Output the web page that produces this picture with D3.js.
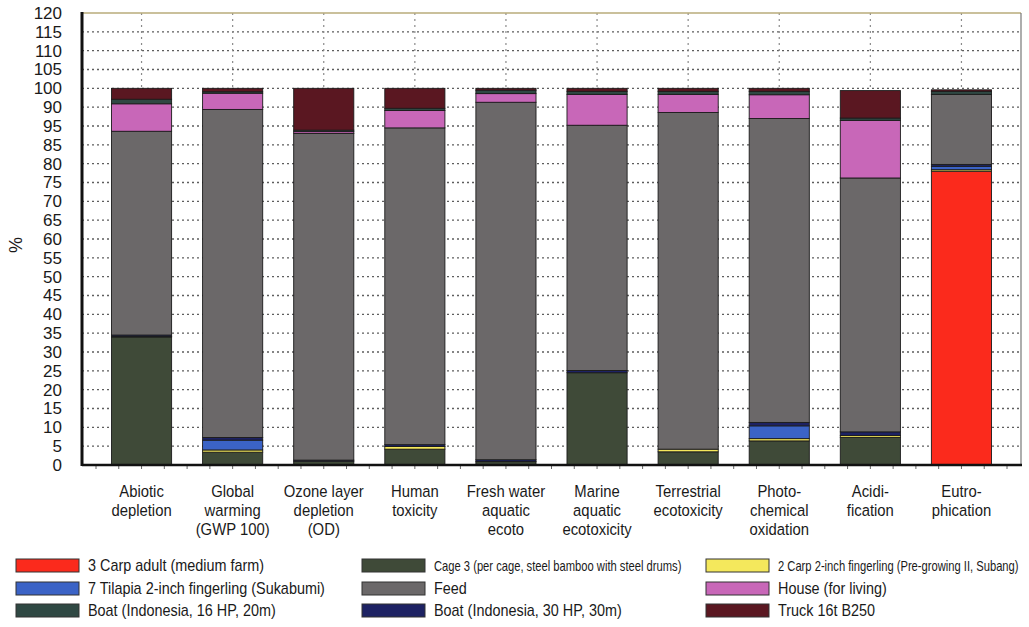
<!DOCTYPE html>
<html>
<head>
<meta charset="utf-8">
<script src="https://cdn.jsdelivr.net/npm/d3@7"></script>
<style>
  html, body { margin: 0; padding: 0; background: #fff; }
  svg { display: block; }
  text { fill: #1a1a1a; }
</style>
</head>
<body>
<svg id="chart" width="1029" height="627"></svg>
<script>
// ---------------- DATA ----------------
const categories = ["Abiotic depletion", "Global warming (GWP 100)", "Ozone layer depletion (OD)",
  "Human toxicity", "Fresh water aquatic ecoto", "Marine aquatic ecotoxicity",
  "Terrestrial ecotoxicity", "Photo-chemical oxidation", "Acidi-fication", "Eutro-phication"];
const categoryLines = [
  ["Abiotic", "depletion"], ["Global", "warming", "(GWP  100)"], ["Ozone layer", "depletion", "(OD)"],
  ["Human", "toxicity"], ["Fresh water", "aquatic", "ecoto"], ["Marine", "aquatic", "ecotoxicity"],
  ["Terrestrial", "ecotoxicity"], ["Photo-", "chemical", "oxidation"], ["Acidi-", "fication"], ["Eutro-", "phication"]
];
const seriesNames = [
  "3 Carp adult (medium farm)",
  "Cage 3 (per cage, steel bamboo with steel drums)",
  "2 Carp 2-inch fingerling (Pre-growing II, Subang)",
  "7 Tilapia 2-inch fingerling (Sukabumi)",
  "Boat (Indonesia, 30 HP, 30m)",
  "Feed",
  "House (for living)",
  "Boat (Indonesia, 16 HP, 20m)",
  "Truck 16t B250"
];
const carpAdult      = [0,    0,    0,    0,    0,    0,    0,    0,    0,    78.0];
const cage3          = [34.0, 3.4,  1.0,  4.2,  0.9,  24.5, 3.5,  6.4,  7.3,  0];
const carpFingerling = [0.1,  0.6,  0,    0.7,  0,    0,    0.7,  0.6,  0.5,  0.4];
const tilapia        = [0,    2.6,  0,    0,    0,    0,    0,    3.4,  0,    0.9];
const boat30         = [0.4,  0.7,  0.3,  0.5,  0.5,  0.6,  0,    0.9,  1.0,  0.5];
const feed           = [54.1, 87.1, 86.7, 84.1, 94.9, 65.1, 89.4, 80.7, 67.4, 18.6];
const house          = [7.3,  4.3,  0.5,  4.6,  2.3,  8.2,  4.8,  6.3,  15.3, 0];
const boat16         = [1.2,  0.4,  0.4,  0.6,  0.9,  0.8,  0.8,  0.9,  0.6,  0.8];
const truck          = [2.9,  0.9,  11.1, 5.3,  0.5,  0.8,  0.8,  0.8,  7.3,  0.4];
const seriesValues = [carpAdult, cage3, carpFingerling, tilapia, boat30, feed, house, boat16, truck];
const seriesColors = ["#fb2a1c", "#3f4a38", "#f4e85c", "#3b63c6", "#1d2263", "#6b6869", "#c867b8", "#2f4843", "#5a1721"];
const yTickValues = [0,5,10,15,20,25,30,35,40,45,50,55,60,65,70,75,80,85,90,95,100,105,110,115,120];
const yTickLabels = ["0","5","10","15","20","25","30","35","40","45","50","55","60","65","70","75","80","85","95","90","100","105","110","115","120"];
// legend layout order (row-major, 3 columns)
const legendOrder = [0, 1, 2, 3, 5, 6, 7, 4, 8];

// ---------------- CHART ----------------
const svg = d3.select("#chart");
const frame = {left: 82, right: 1021, top: 13, bottom: 465};
const FONT = "Liberation Sans, Arial, sans-serif";

const y = d3.scaleLinear().domain([0, 120]).range([frame.bottom, frame.top]);
const x = d3.scaleBand().domain(categories).range([96, 1007]).paddingInner(0.34).paddingOuter(0.17);

const table = categories.map((c, i) => {
  const row = {category: c};
  seriesNames.forEach((s, j) => row[s] = seriesValues[j][i]);
  return row;
});
const stacked = d3.stack().keys(seriesNames)(table);

// horizontal dotted gridlines
svg.append("g").selectAll("line")
  .data(yTickValues.filter(v => v > 0 && v < 120))
  .join("line")
  .attr("x1", frame.left).attr("x2", frame.right)
  .attr("y1", d => y(d)).attr("y2", d => y(d))
  .attr("stroke", "#5e5e5e").attr("stroke-width", 1.3)
  .attr("stroke-dasharray", "2,3");

// vertical dotted gridlines at category centres
svg.append("g").selectAll("line")
  .data(categories)
  .join("line")
  .attr("x1", d => x(d) + x.bandwidth() / 2).attr("x2", d => x(d) + x.bandwidth() / 2)
  .attr("y1", frame.top).attr("y2", frame.bottom)
  .attr("stroke", "#8a8a8a").attr("stroke-width", 1.2)
  .attr("stroke-dasharray", "2,4");

// frame top & right
svg.append("line").attr("x1", frame.left).attr("x2", frame.right).attr("y1", frame.top).attr("y2", frame.top)
  .attr("stroke", "#b8ab7a").attr("stroke-width", 1.5);
svg.append("line").attr("x1", frame.right).attr("x2", frame.right).attr("y1", frame.top).attr("y2", frame.bottom)
  .attr("stroke", "#777").attr("stroke-width", 1.2);

// bars
svg.append("g").selectAll("g")
  .data(stacked)
  .join("g")
  .attr("fill", (d, i) => seriesColors[i])
  .selectAll("rect")
  .data(d => d.map(p => ({p, cat: p.data.category})))
  .join("rect")
  .filter(d => d.p[1] - d.p[0] > 0)
  .attr("x", d => x(d.cat))
  .attr("width", x.bandwidth())
  .attr("y", d => y(d.p[1]))
  .attr("height", d => y(d.p[0]) - y(d.p[1]))
  .attr("stroke", "#1b1b1b").attr("stroke-width", 0.9);

// minor ticks below x axis
const tickScale = d3.scaleLinear().domain([0, 10]).range([96, 1007]);
svg.append("g").selectAll("line")
  .data(d3.range(0, 10.01, 0.25))
  .join("line")
  .attr("x1", d => tickScale(d)).attr("x2", d => tickScale(d))
  .attr("y1", frame.bottom).attr("y2", frame.bottom + 4)
  .attr("stroke", "#666").attr("stroke-width", 1);

// axes lines
svg.append("line").attr("x1", frame.left).attr("x2", frame.right + 1).attr("y1", frame.bottom).attr("y2", frame.bottom)
  .attr("stroke", "#111").attr("stroke-width", 2.5);
svg.append("line").attr("x1", frame.left).attr("x2", frame.left).attr("y1", frame.top - 1).attr("y2", frame.bottom + 1)
  .attr("stroke", "#111").attr("stroke-width", 3);

// y axis labels
const yAxis = d3.axisLeft(y).tickValues(yTickValues)
  .tickFormat((d, i) => yTickLabels[i]).tickSize(0).tickPadding(20);
const gy = svg.append("g").attr("transform", `translate(${frame.left},0)`).call(yAxis);
gy.select(".domain").remove();
gy.selectAll("text").attr("font-family", FONT).attr("font-size", 17).attr("fill", "#222");

svg.append("text")
  .attr("transform", "translate(22,245) rotate(-90)")
  .attr("text-anchor", "middle")
  .attr("font-family", FONT).attr("font-size", 18)
  .text("%");

// x labels (slightly condensed)
const xl = svg.append("g").selectAll("text")
  .data(categories)
  .join("text")
  .attr("text-anchor", "middle")
  .attr("font-family", FONT)
  .attr("font-size", 16.5)
  .attr("transform", d => `translate(${x(d) + x.bandwidth() / 2},497) scale(0.9,1)`);
xl.selectAll("tspan")
  .data((d, i) => categoryLines[i])
  .join("tspan")
  .attr("x", 0)
  .attr("dy", (d, i) => i === 0 ? 0 : 19)
  .text(d => d);

// legend
const legendCols = [16, 362, 706];
const legendRows = [566, 589, 611];
const lg = svg.append("g");
legendOrder.forEach((si, k) => {
  const col = k % 3, row = Math.floor(k / 3);
  const gx = legendCols[col], gyy = legendRows[row];
  lg.append("rect").attr("x", gx).attr("y", gyy - 7).attr("width", 63).attr("height", 13)
    .attr("fill", seriesColors[si]).attr("stroke", "#333").attr("stroke-width", 1);
  const condensed = seriesNames[si].length > 40;
  lg.append("text")
    .attr("transform", `translate(${gx + 72},${gyy + 5}) scale(${condensed ? 0.8 : 0.9},1)`)
    .attr("font-family", FONT)
    .attr("font-size", condensed ? 14 : 16)
    .attr("fill", "#1a1a1a")
    .text(seriesNames[si]);
});
</script>
</body>
</html>
